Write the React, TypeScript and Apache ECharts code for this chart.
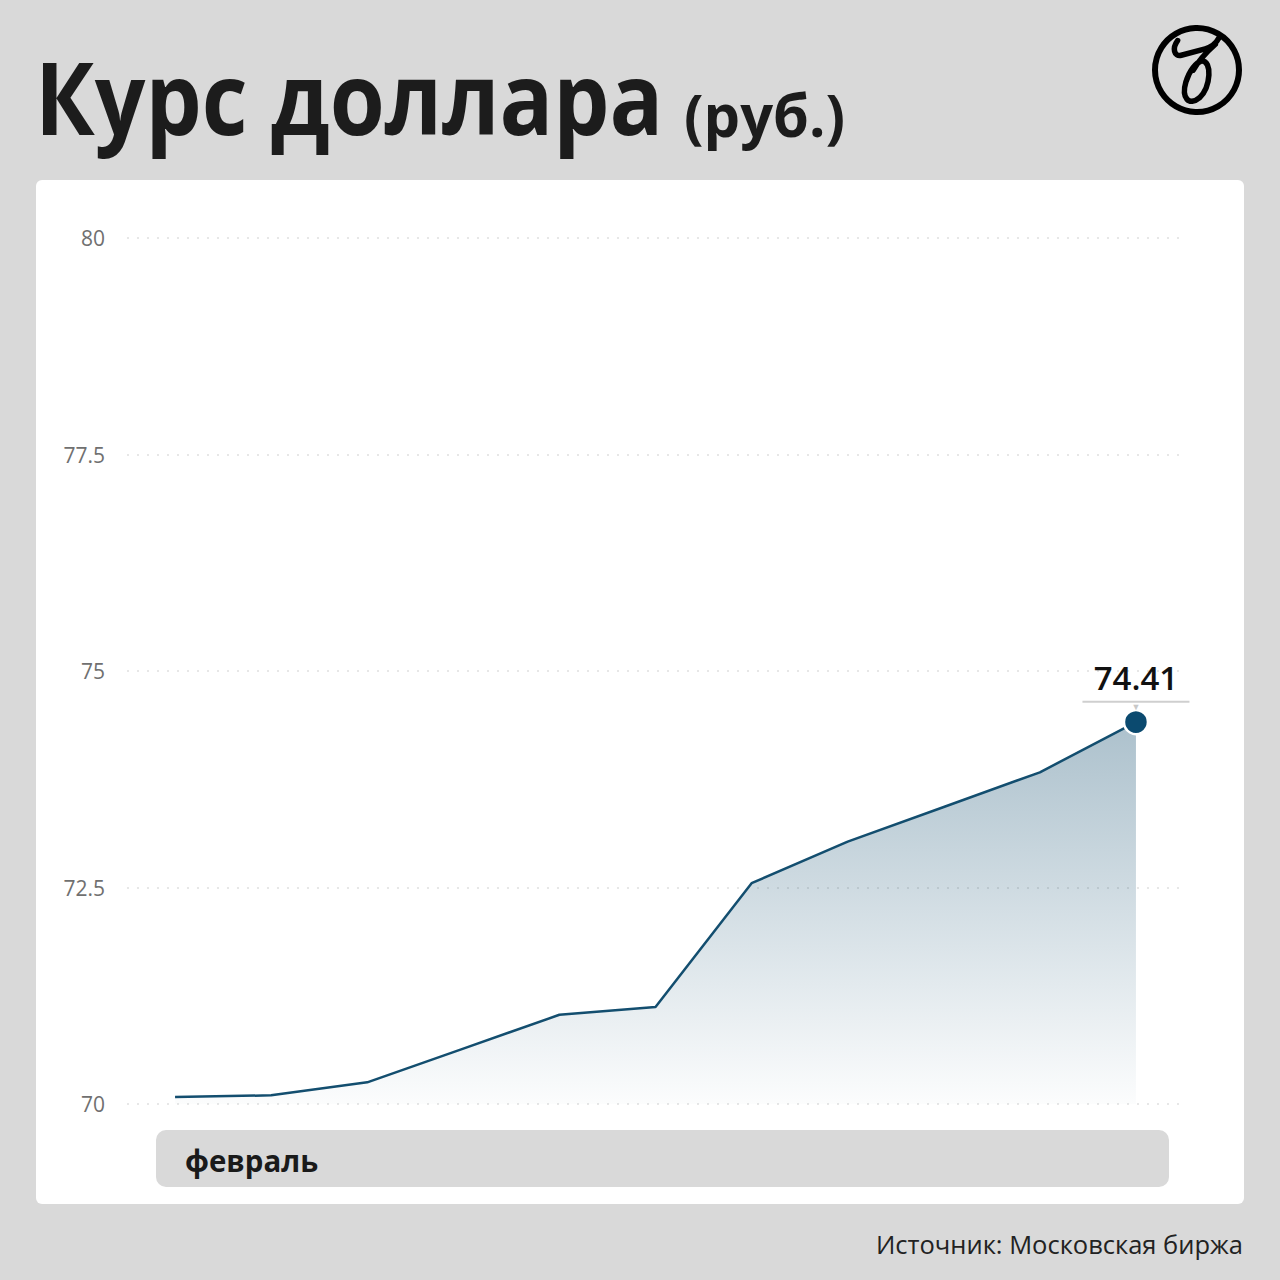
import { useEffect, useRef } from 'react';
import * as echarts from 'echarts';

const dates = ['01.02', '02.02', '03.02', '06.02', '07.02', '08.02', '09.02', '10.02', '13.02', '14.02', '15.02'];
const rates = [70.08, 70.1, 70.25, 70.64, 71.03, 71.12, 72.55, 73.03, 73.43, 73.83, 74.41];
const yMin = 70;
const yMax = 80;
const yStep = 2.5;
const titleText = 'Курс доллара';
const unitText = '(руб.)';
const monthText = 'февраль';
const sourceText = 'Источник: Московская биржа';

const logoPath =
  'M30 18 C24 26 26 36 34 34 L60 27 C67 25 72 21 75 15 ' +
  'M71 22 C62 30 54 38 47 50 ' +
  'M56 40 C68 40 66 68 54 80 C42 90 34 80 39 63 C43 50 50 42 56 40 Z';

export default function App() {
  const ref = useRef<HTMLDivElement>(null);
  useEffect(() => {
    if (!ref.current) return;
    echarts.graphic.registerShape('logo', echarts.graphic.extendPath(logoPath, {}));
    const chart = echarts.init(ref.current, null, { renderer: 'svg' });
    const last = rates.length - 1;
    chart.setOption({
      animation: false,
      backgroundColor: '#d9d9d9',
      grid: { left: 127, right: 96, top: 238, bottom: 176 },
      xAxis: {
        type: 'category',
        data: dates,
        boundaryGap: true,
        axisLine: { show: false },
        axisTick: { show: false },
        axisLabel: { show: false },
      },
      yAxis: {
        type: 'value',
        min: yMin,
        max: yMax,
        interval: yStep,
        axisLine: { show: false },
        axisTick: { show: false },
        axisLabel: { color: '#707070', fontSize: 21, fontFamily: 'Open Sans', margin: 22 },
        splitLine: { lineStyle: { color: '#e0e0e0', width: 1.5, type: [2, 8] } },
      },
      series: [
        {
          type: 'line',
          symbol: 'none',
          z: 5,
          lineStyle: { color: '#134e6f', width: 2.5 },
          areaStyle: {
            color: new echarts.graphic.LinearGradient(0, 0, 0, 1, [
              { offset: 0, color: 'rgba(19,78,111,0.5)' },
              { offset: 1, color: 'rgba(19,78,111,0.02)' },
            ]),
          },
          data: rates.map((v, i) =>
            i === last
              ? {
                  value: v,
                  symbol: 'circle',
                  symbolSize: 24,
                  itemStyle: { color: '#0b4a6f', borderColor: '#fff', borderWidth: 2.5 },
                  label: {
                    show: true,
                    position: 'top',
                    distance: -2,
                    formatter: (p: any) => `{v|${Number(p.value).toFixed(2)}}\n{u|}\n{t|▼}`,
                    rich: {
                      v: { fontSize: 33, fontWeight: 600, color: '#111', fontFamily: 'Open Sans', lineHeight: 46, align: 'center' },
                      u: { width: 107, height: 2, backgroundColor: '#cfcfcf', lineHeight: 2, align: 'center' },
                      t: { fontSize: 9, color: '#c8c8c8', lineHeight: 8, align: 'center' },
                    },
                  },
                }
              : v
          ),
        },
      ],
      graphic: [
        {
          type: 'rect',
          z: -100,
          silent: true,
          shape: { x: 36, y: 180, width: 1208, height: 1024, r: 6 },
          style: { fill: '#ffffff' },
        },
        {
          type: 'rect',
          z: 10,
          shape: { x: 156, y: 1130, width: 1013, height: 57, r: 10 },
          style: { fill: '#d9d9d9' },
        },
        {
          type: 'text',
          z: 11,
          x: 185,
          y: 1160,
          scaleX: 0.95,
          style: { text: monthText, fontSize: 31, fontWeight: 'bold', fill: '#1a1a1a', fontFamily: 'Open Sans', verticalAlign: 'middle' },
        },
        {
          type: 'text',
          z: 11,
          x: 35,
          y: 96,
          scaleX: 0.89,
          style: { text: titleText, fontSize: 100, fontWeight: 'bold', fill: '#1c1c1c', fontFamily: 'Open Sans', verticalAlign: 'middle' },
        },
        {
          type: 'text',
          z: 11,
          x: 684,
          y: 114,
          scaleX: 0.98,
          style: { text: unitText, fontSize: 59, fontWeight: 'bold', fill: '#1c1c1c', fontFamily: 'Open Sans', verticalAlign: 'middle' },
        },
        {
          type: 'text',
          z: 11,
          x: 1243,
          y: 1244,
          style: { text: sourceText, fontSize: 25.5, fill: '#222', fontFamily: 'Open Sans', align: 'right', verticalAlign: 'middle' },
        },
        {
          type: 'circle',
          z: 11,
          shape: { cx: 1197, cy: 70, r: 42 },
          style: { fill: 'none', stroke: '#000', lineWidth: 6 },
        },
        {
          type: 'logo',
          z: 11,
          x: 1150,
          y: 24,
          scaleX: 0.92,
          scaleY: 0.92,
          style: { fill: 'none', stroke: '#000', lineWidth: 6, lineCap: 'round', lineJoin: 'round' },
        },
      ],
    });
    return () => chart.dispose();
  }, []);
  return <div ref={ref} style={{ position: 'absolute', left: 0, top: 0, width: 1280, height: 1280 }} />;
}
